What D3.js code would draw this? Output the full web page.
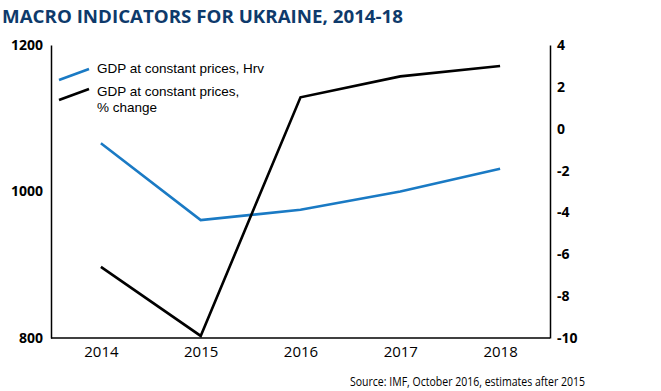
<!DOCTYPE html>
<html>
<head>
<meta charset="utf-8">
<script src="https://cdn.jsdelivr.net/npm/d3@7.9.0/dist/d3.min.js"></script>
<style>
  body { margin: 0; background: #fff; }
  svg text { font-family: "Open Sans", "DejaVu Sans", sans-serif; }
  svg text.legend-text { font-family: "Liberation Sans", Arial, sans-serif; }
</style>
</head>
<body>
<svg id="chart" width="661" height="391"></svg>
<script>
/* ---------- Data ---------- */
const years = ["2014", "2015", "2016", "2017", "2018"];
const gdpHrv = [1066, 961, 975, 1000, 1031];          // left axis
const gdpChange = [-6.6, -9.9, 1.5, 2.5, 3.0];         // right axis, %
const leftTicks = [800, 1000, 1200];
const rightTicks = [-10, -8, -6, -4, -2, 0, 2, 4];

/* ---------- Layout ---------- */
const svg = d3.select('#chart');
const plotLeft = 51, plotRight = 550, plotTop = 45, plotBottom = 338;

const x = d3.scalePoint().domain(years).range([plotLeft, plotRight]).padding(0.5);
const yL = d3.scaleLinear().domain([800, 1200]).range([plotBottom, plotTop]);
const yR = d3.scaleLinear().domain([-10, 4]).range([plotBottom, plotTop]);

/* ---------- Title ---------- */
svg.append('text')
  .attr('x', 2).attr('y', 23)
  .attr('textLength', 401).attr('lengthAdjust', 'spacingAndGlyphs')
  .style('font-size', '17px').style('font-weight', 700)
  .attr('fill', '#0e3a6b')
  .text('MACRO INDICATORS FOR UKRAINE, 2014-18');

/* ---------- Axes ---------- */
const axisL = svg.append('g').attr('transform', `translate(${plotLeft},0)`)
  .call(d3.axisLeft(yL).tickValues(leftTicks).tickSize(0).tickPadding(8)
    .tickFormat(d => d));
const axisR = svg.append('g').attr('transform', `translate(${plotRight},0)`)
  .call(d3.axisRight(yR).tickValues(rightTicks).tickSize(0).tickPadding(7)
    .tickFormat(d => d));
const axisB = svg.append('g').attr('transform', `translate(0,${plotBottom})`)
  .call(d3.axisBottom(x).tickSize(0).tickPadding(8));

[axisL, axisR, axisB].forEach(a => {
  a.select('.domain').attr('stroke', '#000').attr('stroke-width', 1.5);
  a.selectAll('text').attr('fill', '#000');
});
axisL.selectAll('text').style('font-size', '14px').style('font-weight', 700);
axisR.selectAll('text').style('font-size', '14px').style('font-weight', 700);
axisB.selectAll('text').style('font-size', '15px');
axisB.select('.domain').attr('d', `M${plotLeft},0H${plotRight}`);

/* ---------- Lines ---------- */
const lineL = d3.line().x((d, i) => x(years[i])).y(d => yL(d));
const lineR = d3.line().x((d, i) => x(years[i])).y(d => yR(d));

svg.append('path').datum(gdpHrv)
  .attr('d', lineL).attr('fill', 'none')
  .attr('stroke', '#1a7ac4').attr('stroke-width', 2.6);

svg.append('path').datum(gdpChange)
  .attr('d', lineR).attr('fill', 'none')
  .attr('stroke', '#000').attr('stroke-width', 2.6);

/* ---------- Legend ---------- */
const legend = [
  { color: '#1a7ac4', lines: ['GDP at constant prices, Hrv'], y: 75, sw: 75 },
  { color: '#000', lines: ['GDP at constant prices,', '% change'], y: 98, sw: 95 }
];
legend.forEach(l => {
  svg.append('line')
    .attr('x1', 59).attr('y1', l.sw + 5).attr('x2', 89).attr('y2', l.sw - 6)
    .attr('stroke', l.color).attr('stroke-width', 2.6);
  l.lines.forEach((s, j) => {
    svg.append('text').attr('class', 'legend-text')
      .attr('x', 97).attr('y', l.y - 2 + j * 15.5)
      .style('font-size', '13.5px').attr('fill', '#000')
      .text(s);
  });
});

/* ---------- Source ---------- */
svg.append('text')
  .attr('x', 350).attr('y', 386)
  .attr('textLength', 235).attr('lengthAdjust', 'spacingAndGlyphs')
  .style('font-size', '12px').attr('fill', '#000')
  .text('Source: IMF, October 2016, estimates after 2015');
</script>
</body>
</html>
